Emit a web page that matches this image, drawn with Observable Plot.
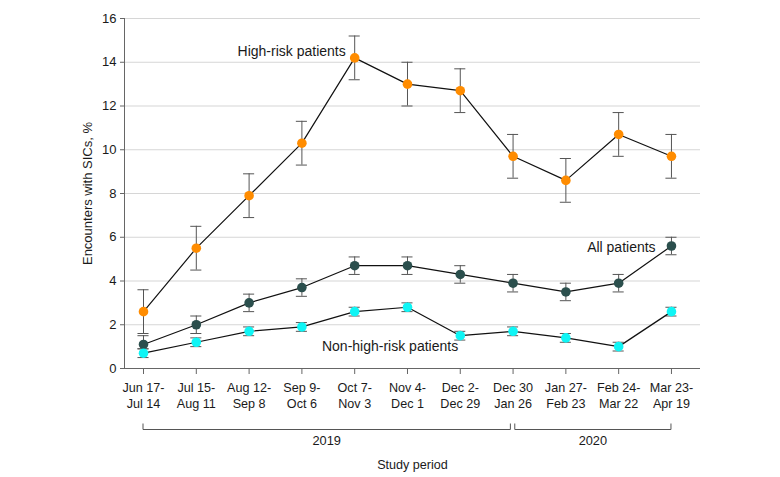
<!DOCTYPE html>
<html>
<head>
<meta charset="utf-8">
<script src="https://cdn.jsdelivr.net/npm/d3@7"></script>
<script src="https://cdn.jsdelivr.net/npm/@observablehq/plot@0.6"></script>
<style>
  body { margin: 0; background: #fff; }
  #chart svg { font-family: "Liberation Sans", Arial, sans-serif; }
</style>
</head>
<body>
<div id="chart"></div>
<script>
// Study periods (tick labels)
const periods = [
  "Jun 17-\nJul 14", "Jul 15-\nAug 11", "Aug 12-\nSep 8", "Sep 9-\nOct 6",
  "Oct 7-\nNov 3", "Nov 4-\nDec 1", "Dec 2-\nDec 29", "Dec 30\nJan 26",
  "Jan 27-\nFeb 23", "Feb 24-\nMar 22", "Mar 23-\nApr 19"
];
// Series values (%), lower and upper CI
const highRisk      = [2.6, 5.5, 7.9, 10.3, 14.2, 13.0, 12.7, 9.7, 8.6, 10.7, 9.7];
const highRiskLow   = [1.6, 4.5, 6.9, 9.3, 13.2, 12.0, 11.7, 8.7, 7.6, 9.7, 8.7];
const highRiskHigh  = [3.6, 6.5, 8.9, 11.3, 15.2, 14.0, 13.7, 10.7, 9.6, 11.7, 10.7];
const allPts        = [1.1, 2.0, 3.0, 3.7, 4.7, 4.7, 4.3, 3.9, 3.5, 3.9, 5.6];
const allPtsLow     = [0.9, 1.6, 2.6, 3.3, 4.3, 4.3, 3.9, 3.5, 3.1, 3.5, 5.2];
const allPtsHigh    = [1.5, 2.4, 3.4, 4.1, 5.1, 5.1, 4.7, 4.3, 3.9, 4.3, 6.0];
const nonHigh       = [0.7, 1.2, 1.7, 1.9, 2.6, 2.8, 1.5, 1.7, 1.4, 1.0, 2.6];
const nonHighLow    = [0.5, 1.0, 1.5, 1.7, 2.4, 2.6, 1.3, 1.5, 1.2, 0.8, 2.4];
const nonHighHigh   = [0.9, 1.4, 1.9, 2.1, 2.8, 3.0, 1.7, 1.9, 1.6, 1.2, 2.8];
// Year groups (index ranges of periods)
const years = [
  {label: "2019", from: 0, to: 7, side: "left"},
  {label: "2020", from: 7, to: 10, side: "right"}
];
// Series annotations
const seriesLabels = [
  {text: "High-risk patients", i: 3.83, v: 14.5, anchor: "end"},
  {text: "All patients", i: 9.7, v: 5.55, anchor: "end"},
  {text: "Non-high-risk patients", i: 3.38, v: 1.0, anchor: "start"}
];
const yTicks = [0, 2, 4, 6, 8, 10, 12, 14, 16];

const series = [
  {name: "High-risk", v: highRisk, lo: highRiskLow, hi: highRiskHigh, color: "#FF8C00"},
  {name: "All", v: allPts, lo: allPtsLow, hi: allPtsHigh, color: "#2B4F4D"},
  {name: "Non-high-risk", v: nonHigh, lo: nonHighLow, hi: nonHighHigh, color: "#0FF5F5"}
];
const data = series.flatMap(s => s.v.map((v, i) => ({series: s.name, i, v, lo: s.lo[i], hi: s.hi[i], color: s.color})));

const xDomain = [-0.36, 10.55];
const capHalf = 0.105;

function brackets(index, scales, values, dim) {
  const g = d3.create("svg:g");
  const base = dim.height - dim.marginBottom;
  const yLine = base + 61.5, yEnd = base + 55.5;
  for (const yr of years) {
    const a = scales.x(yr.from) + (yr.side === "right" ? 2.2 : 0);
    const b = scales.x(yr.to) - (yr.side === "left" ? 2.2 : 0);
    g.append("path")
      .attr("d", `M${a},${yEnd}V${yLine}H${b}V${yEnd}`)
      .attr("fill", "none").attr("stroke", "#555").attr("stroke-width", 1);
    g.append("text")
      .attr("x", (a + b) / 2).attr("y", yLine + 15.5)
      .attr("text-anchor", "middle").attr("font-size", 12.8).attr("fill", "#1a1a1a")
      .text(yr.label);
  }
  return g.node();
}

const chart = Plot.plot({
  width: 780,
  height: 477,
  marginLeft: 124,
  marginRight: 80,
  marginTop: 18,
  marginBottom: 109,
  style: {fontFamily: "Liberation Sans, Arial, sans-serif", background: "#fff"},
  x: {domain: xDomain},
  y: {domain: [0, 16]},
  marks: [
    Plot.gridY(yTicks.slice(1), {stroke: "#d6d6d6", strokeOpacity: 1, strokeWidth: 1.2}),
    Plot.ruleY([0], {stroke: "#666"}),
    Plot.ruleX([xDomain[0]], {y1: 0, y2: 16, stroke: "#666"}),
    Plot.axisY({
      ticks: yTicks, tickSize: 4, tickPadding: 4, fontSize: 13, stroke: "#666", color: "#1a1a1a",
      label: "Encounters with SICs, %", labelArrow: false, labelAnchor: "center", labelOffset: 42
    }),
    Plot.axisX({
      ticks: d3.range(periods.length), tickFormat: i => periods[i], tickSize: 6, tickPadding: 6,
      fontSize: 12.6, lineHeight: 1.27, stroke: "#666", color: "#1a1a1a",
      label: "Study period", labelArrow: false, labelAnchor: "center", labelOffset: 100
    }),
    Plot.ruleX(data, {x: "i", y1: "lo", y2: "hi", stroke: "#555", strokeWidth: 1}),
    Plot.ruleY(data, {x1: d => d.i - capHalf, x2: d => d.i + capHalf, y: "lo", stroke: "#555", strokeWidth: 1}),
    Plot.ruleY(data, {x1: d => d.i - capHalf, x2: d => d.i + capHalf, y: "hi", stroke: "#555", strokeWidth: 1}),
    Plot.line(data, {x: "i", y: "v", z: "series", stroke: "#111", strokeWidth: 1.2}),
    Plot.dot(data, {x: "i", y: "v", r: 4.8, fill: d => d.color, stroke: "none"}),
    Plot.text(seriesLabels.filter(d => d.anchor === "end"), {x: "i", y: "v", text: "text", textAnchor: "end", fontSize: 14, fill: "#1a1a1a"}),
    Plot.text(seriesLabels.filter(d => d.anchor === "start"), {x: "i", y: "v", text: "text", textAnchor: "start", fontSize: 14, fill: "#1a1a1a"}),
    brackets
  ]
});
document.getElementById("chart").appendChild(chart);
</script>
</body>
</html>
